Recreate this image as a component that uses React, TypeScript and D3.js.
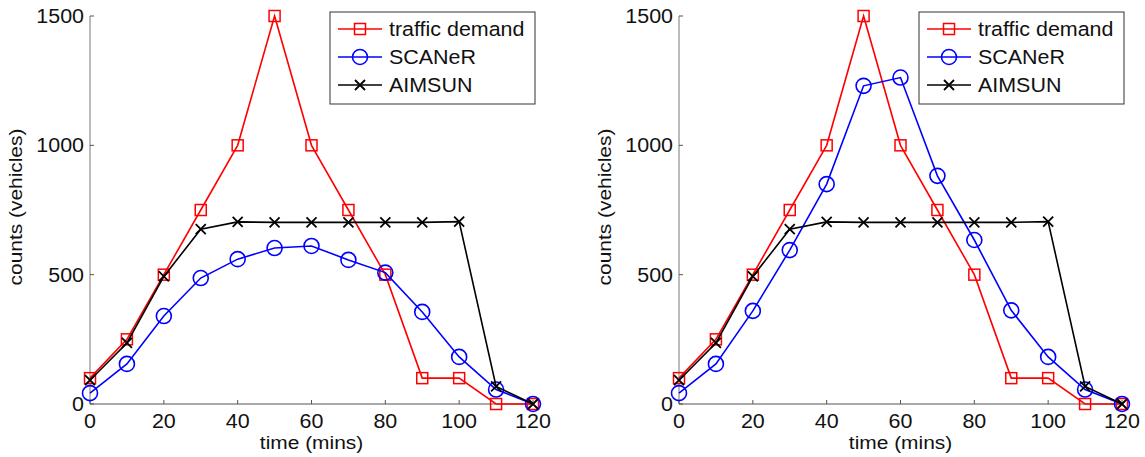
import React from "react";
import * as d3 from "d3";

const times = [0, 10, 20, 30, 40, 50, 60, 70, 80, 90, 100, 110, 120];
const demand = [100, 250, 500, 750, 1000, 1500, 1000, 750, 500, 100, 100, 0, 0];
const aimsun = [92, 236, 493, 676, 704, 702, 702, 702, 702, 702, 705, 68, 0];
const scanerLeft = [42, 155, 340, 487, 560, 603, 611, 557, 508, 356, 182, 56, 0];
const scanerRight = [42, 155, 360, 595, 850, 1230, 1262, 882, 634, 362, 182, 56, 0];
const xTicks = [0, 20, 40, 60, 80, 100, 120];
const yTicks = [0, 500, 1000, 1500];
const legendLabels = ["traffic demand", "SCANeR", "AIMSUN"];

const FONT = "'Liberation Sans', Arial, Helvetica, sans-serif";
const RED = "#ff0000";
const BLUE = "#0000ff";
const BLACK = "#000000";
const SX = 1.1;

function T({ x, y, anchor, size, rotate, children }: any) {
  return (
    <text
      transform={`translate(${x},${y})${rotate ? ` rotate(${rotate})` : ""} scale(${SX},1)`}
      textAnchor={anchor || "start"}
      fontSize={size}
      fill="#111"
    >
      {children}
    </text>
  );
}

function Marker({ type, x, y, color }: { type: string; x: number; y: number; color: string }) {
  if (type === "square") {
    const s = 11;
    return <rect x={x - s / 2} y={y - s / 2} width={s} height={s} fill="none" stroke={color} strokeWidth={1.5} />;
  }
  if (type === "circle") {
    return <circle cx={x} cy={y} r={7.5} fill="none" stroke={color} strokeWidth={1.6} />;
  }
  const h = 5;
  return (
    <path
      d={`M${x - h},${y - h}L${x + h},${y + h}M${x - h},${y + h}L${x + h},${y - h}`}
      stroke={color}
      strokeWidth={1.8}
      fill="none"
    />
  );
}

function Panel({ ox, scaner }: { ox: number; scaner: number[] }) {
  const x = d3.scaleLinear().domain([0, 120]).range([ox, ox + 443]);
  const y = d3.scaleLinear().domain([0, 1500]).range([404, 16]);
  const line = d3
    .line<number>()
    .x((_, i) => x(times[i]))
    .y((d) => y(d));

  const series = [
    { data: demand, color: RED, type: "square" },
    { data: scaner, color: BLUE, type: "circle" },
    { data: aimsun, color: BLACK, type: "x" },
  ];

  const lx = ox + 240;
  const ly = 12;

  return (
    <g fontFamily={FONT}>
      <line x1={x(0)} y1={y(0)} x2={x(120)} y2={y(0)} stroke="#555" strokeWidth={1} />
      <line x1={x(0)} y1={y(0)} x2={x(0)} y2={y(1500)} stroke="#777" strokeWidth={1} />
      {xTicks.map((t) => (
        <g key={"x" + t}>
          <line x1={x(t)} x2={x(t)} y1={y(0)} y2={y(0) - 4} stroke="#555" />
          <T x={x(t)} y={428} anchor="middle" size={19.5}>
            {t}
          </T>
        </g>
      ))}
      {yTicks.map((t) => (
        <g key={"y" + t}>
          <line x1={x(0)} x2={x(0) + 4} y1={y(t)} y2={y(t)} stroke="#555" />
          <T x={x(0) - 6} y={y(t) + 7} anchor="end" size={19.5}>
            {t}
          </T>
        </g>
      ))}
      <T x={(x(0) + x(120)) / 2} y={449} anchor="middle" size={19}>
        time (mins)
      </T>
      <T x={ox - 68} y={y(750) - 3} anchor="middle" size={19} rotate={-90}>
        counts (vehicles)
      </T>

      {series.map((s, k) => (
        <g key={"s" + k}>
          <path d={line(s.data) || ""} fill="none" stroke={s.color} strokeWidth={1.6} />
          {s.data.map((v, i) => (
            <Marker key={i} type={s.type} x={x(times[i])} y={y(v)} color={s.color} />
          ))}
        </g>
      ))}

      <rect x={lx} y={ly} width={205} height={92} fill="#fff" stroke="#333" strokeWidth={1} />
      {series.map((s, k) => {
        const ry = ly + 17 + k * 28;
        return (
          <g key={"l" + k}>
            <line x1={lx + 8} x2={lx + 52} y1={ry} y2={ry} stroke={s.color} strokeWidth={1.6} />
            <Marker type={s.type} x={lx + 30} y={ry} color={s.color} />
            <T x={lx + 59} y={ry + 7} size={19.5}>
              {legendLabels[k]}
            </T>
          </g>
        );
      })}
    </g>
  );
}

export default function App() {
  return (
    <svg
      width={1145}
      height={457}
      style={{ position: "absolute", left: 0, top: 0, background: "#fff" }}
    >
      <rect width={1145} height={457} fill="#fff" />
      <Panel ox={90} scaner={scanerLeft} />
      <Panel ox={679} scaner={scanerRight} />
    </svg>
  );
}
